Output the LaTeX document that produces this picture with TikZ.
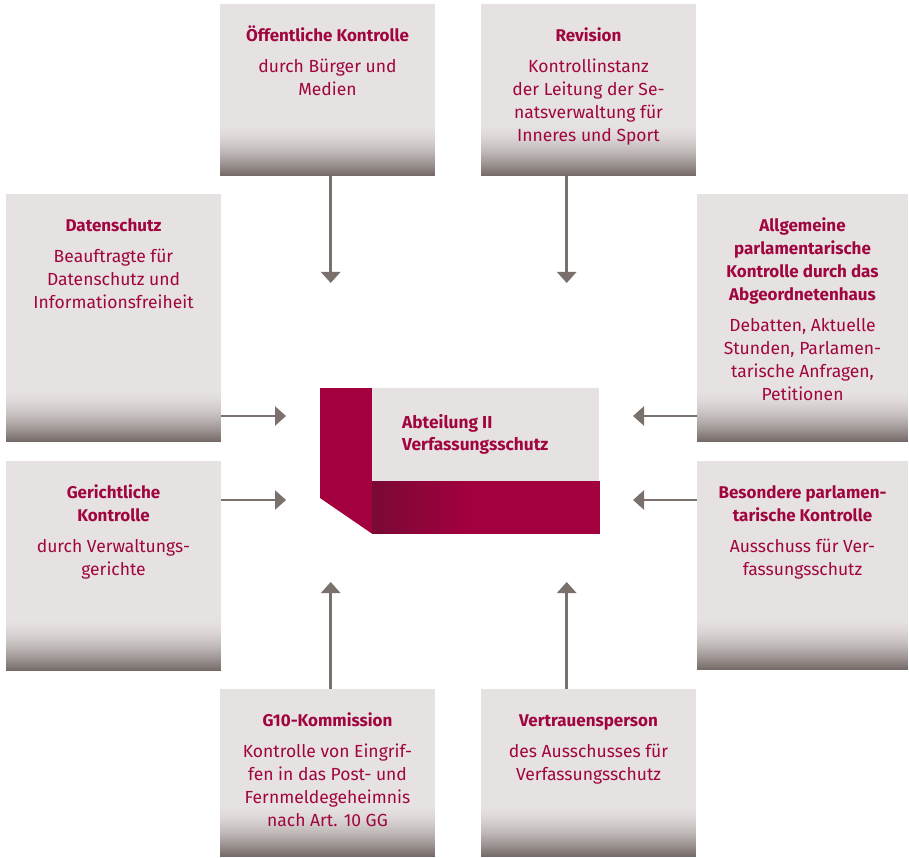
\documentclass[tikz,border=0pt]{standalone}
\usepackage{fontspec}
\setmainfont{Fira Sans}
\usetikzlibrary{arrows.meta}
\definecolor{boxgray}{HTML}{E6E2E1}
\definecolor{boxdark}{HTML}{736866}
\definecolor{arrgray}{HTML}{7A706C}
\definecolor{mag}{HTML}{A3003F}
\definecolor{magdark}{HTML}{7A0934}
\definecolor{txt}{HTML}{A00540}
\tikzset{
  cbox/.style={anchor=north west, inner sep=0pt, outer sep=0pt, fill=boxgray,
    path picture={
      \foreach \i in {0,...,51}{
        \pgfmathsetmacro\pp{100*((\i+0.5)/52)^1.7}
        \pgfmathsetmacro\ya{52-\i}
        \pgfmathsetmacro\yb{50.6-\i}
        \fill[boxdark!\pp!boxgray]
          ([yshift=\ya pt]path picture bounding box.south west) rectangle
          ([yshift=\yb pt]path picture bounding box.south east);
      }
    }},
  lbl/.style={anchor=north, align=center, inner sep=0pt, text=txt,
    font=\fontsize{17.5}{23}\selectfont},
  arr/.style={draw=arrgray, line width=2.5pt, -{Triangle[width=19pt,length=11pt]}, arrgray},
}
\newcommand{\ttlfont}{\fontsize{17}{23}\selectfont\bfseries}
\newcommand{\firstline}{\rule{0pt}{16pt}}
\begin{document}
\begin{tikzpicture}[x=1pt,y=-1pt]
\useasboundingbox[fill=white] (0,0) rectangle (909,858);

% boxes
\node[cbox, minimum width=215pt, minimum height=172pt] (oeff) at (220,4) {};
\node[cbox, minimum width=215pt, minimum height=172pt] (rev) at (481,4) {};
\node[cbox, minimum width=215pt, minimum height=248pt] (daten) at (6,194) {};
\node[cbox, minimum width=215pt, minimum height=210pt] (ger) at (6,461) {};
\node[cbox, minimum width=211pt, minimum height=248pt] (allg) at (697,194) {};
\node[cbox, minimum width=211pt, minimum height=209pt] (bes) at (697,461) {};
\node[cbox, minimum width=215pt, minimum height=168pt] (g10) at (220,689) {};
\node[cbox, minimum width=215pt, minimum height=168pt] (vert) at (481,689) {};

% texts
\node[lbl] (oeff-t) at ([yshift=-21pt]oeff.north)
  {\firstline{\ttlfont Öffentliche Kontrolle}\\[8pt]durch Bürger und\\Medien};
\node[lbl] (rev-t) at ([yshift=-21pt]rev.north)
  {\firstline{\ttlfont Revision}\\[8pt]Kontrollinstanz\\der Leitung der Se-\\natsverwaltung für\\Inneres und Sport};
\node[lbl] (daten-t) at ([yshift=-21pt]daten.north)
  {\firstline{\ttlfont Datenschutz}\\[8pt]Beauftragte für\\Datenschutz und\\Informationsfreiheit};
\node[lbl] (ger-t) at ([yshift=-21pt]ger.north)
  {\firstline{\ttlfont Gerichtliche}\\{\ttlfont Kontrolle}\\[8pt]durch Verwaltungs-\\gerichte};
\node[lbl] (allg-t) at ([yshift=-21pt]allg.north)
  {\firstline{\ttlfont Allgemeine}\\{\ttlfont parlamentarische}\\{\ttlfont Kontrolle durch das}\\{\ttlfont Abgeordnetenhaus}\\[8pt]Debatten, Aktuelle\\Stunden, Parlamen-\\tarische Anfragen,\\Petitionen};
\node[lbl] (bes-t) at ([yshift=-21pt]bes.north)
  {\firstline{\ttlfont Besondere parlamen-}\\{\ttlfont tarische Kontrolle}\\[8pt]Ausschuss für Ver-\\fassungsschutz};
\node[lbl] (g10-t) at ([yshift=-21pt]g10.north)
  {\firstline{\ttlfont G10-Kommission}\\[8pt]Kontrolle von Eingrif-\\fen in das Post- und\\Fernmeldegeheimnis\\nach Art. 10 GG};
\node[lbl] (vert-t) at ([yshift=-21pt]vert.north)
  {\firstline{\ttlfont Vertrauensperson}\\[8pt]des Ausschusses für\\Verfassungsschutz};

% centre
\fill[mag] (320,388) -- (372.5,388) -- (372.5,534) -- (320,498) -- cycle;
\node[anchor=north west, inner sep=0pt, outer sep=0pt, fill=boxgray,
  minimum width=227pt, minimum height=93pt] (abt) at (372,388) {};
\fill[mag] (372,481) rectangle (600,534);
\foreach \i in {0,...,49}{
  \pgfmathsetmacro\pp{100*(1-(\i+0.5)/50)}
  \fill[magdark!\pp!mag] ({372+2*\i},481) rectangle ({374.6+2*\i},534);
}
\node[anchor=north west, align=left, inner sep=0pt, text=txt,
  font=\fontsize{17.3}{22}\selectfont\bfseries] (abt-t) at (402,412)
  {\firstline Abteilung II\\Verfassungsschutz};

% arrow tips
\coordinate (t-oeff) at (330.7,283);
\coordinate (t-rev) at (566.7,283);
\coordinate (t-daten) at (286,416);
\coordinate (t-ger) at (286,500);
\coordinate (t-allg) at (633,416);
\coordinate (t-bes) at (633,500);
\coordinate (t-g10) at (330.7,582);
\coordinate (t-vert) at (566.7,582);

\draw[arr] (oeff.south -| t-oeff) -- (t-oeff);
\draw[arr] (rev.south -| t-rev) -- (t-rev);
\draw[arr] (daten.east |- t-daten) -- (t-daten);
\draw[arr] (ger.east |- t-ger) -- (t-ger);
\draw[arr] (allg.west |- t-allg) -- (t-allg);
\draw[arr] (bes.west |- t-bes) -- (t-bes);
\draw[arr] (g10.north -| t-g10) -- (t-g10);
\draw[arr] (vert.north -| t-vert) -- (t-vert);
\end{tikzpicture}
\end{document}
